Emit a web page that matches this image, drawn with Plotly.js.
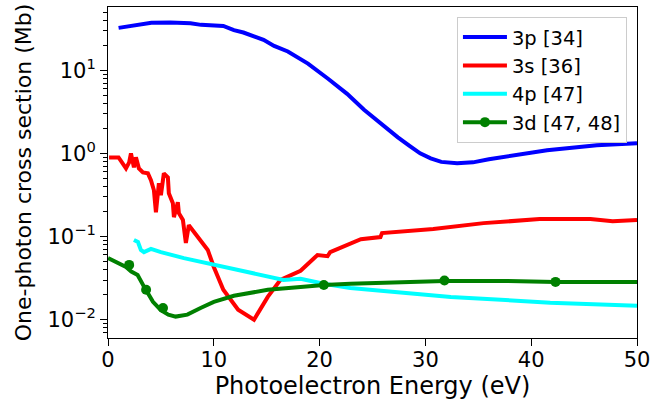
<!DOCTYPE html>
<html>
<head>
<meta charset="utf-8">
<script src="https://cdn.plot.ly/plotly-3.0.1.min.js"></script>
<style>html,body{margin:0;padding:0;background:#fff;}#chart{width:653px;height:405px;}</style>
</head>
<body>
<div id="chart"></div>
<script>
// 3p [34]
var e3p = [1.0, 2.2, 3.1, 4.1, 5.9, 7.8, 8.8, 10.9, 11.9, 12.8, 14.7, 15.7, 17.0, 18.9, 20.8, 22.6, 24.2, 25.8, 27.4, 28.5, 29.5, 30.5, 31.5, 33.0, 34.5, 36.0, 38.3, 41.5, 46.2, 50];
var s3p = [32.3, 34.1, 36.1, 37.1, 37.4, 36.7, 35.1, 34.1, 30.3, 28.4, 23.2, 19.6, 16.8, 12.0, 7.9, 5.2, 3.35, 2.25, 1.56, 1.23, 1.0, 0.87, 0.79, 0.76, 0.78, 0.85, 0.95, 1.09, 1.25, 1.32];
// 3s [36]
var e3s = [0.1, 1.0, 1.7, 2.0, 2.17, 2.45, 2.64, 2.92, 3.3, 3.77, 4.06, 4.34, 4.53, 4.81, 5.0, 5.28, 5.66, 5.75, 6.13, 6.23, 6.6, 6.7, 7.08, 7.36, 7.64, 8.77, 9.43, 10.0, 10.9, 12.3, 13.8, 15.1, 16.3, 18.2, 19.8, 20.75, 21.0, 23.9, 25.75, 25.9, 30.75, 35.5, 40.8, 45.6, 47.7, 50];
var s3s = [0.895, 0.895, 0.66, 0.78, 1.0, 0.68, 0.895, 0.66, 0.59, 0.575, 0.475, 0.36, 0.196, 0.437, 0.314, 0.575, 0.516, 0.332, 0.252, 0.171, 0.259, 0.191, 0.158, 0.0836, 0.137, 0.091, 0.069, 0.043, 0.0229, 0.0132, 0.0100, 0.0188, 0.0301, 0.0387, 0.060, 0.058, 0.065, 0.093, 0.0986, 0.110, 0.123, 0.145, 0.162, 0.162, 0.153, 0.158];
// 4p [47]
var e4p = [2.45, 2.83, 3.11, 3.4, 4.06, 5.0, 7.17, 10.0, 13.5, 16.6, 18.2, 20.4, 22.9, 32.4, 41.8, 50];
var s4p = [0.091, 0.086, 0.069, 0.065, 0.071, 0.065, 0.055, 0.0456, 0.0366, 0.0301, 0.031, 0.027, 0.0241, 0.0188, 0.016, 0.0147];
// 3d [47, 48] line
var e3d = [0.0, 1.0, 1.7, 2.2, 2.8, 3.4, 4.25, 5.0, 5.7, 6.4, 7.5, 8.8, 10.0, 11.9, 15.1, 18.2, 20.4, 22.9, 31.8, 37.1, 42.3, 50];
var s3d = [0.055, 0.048, 0.043, 0.038, 0.0345, 0.025, 0.0164, 0.013, 0.0115, 0.0109, 0.0115, 0.0139, 0.0164, 0.0194, 0.0229, 0.0248, 0.0262, 0.027, 0.0293, 0.0293, 0.0285, 0.0285];
// 3d markers
var e3dm = [2.0, 3.6, 5.2, 20.4, 31.8, 42.3];
var s3dm = [0.0456, 0.0229, 0.0138, 0.0262, 0.0296, 0.0285];

var names = ['3p [34]', '3s [36]', '4p [47]', '3d [47, 48]'];
var yTickVals = [0.01, 0.1, 1, 10];
var yTickText = ['10<sup>\u22122</sup>', '10<sup>\u22121</sup>', '10<sup>0</sup>', '10<sup>1</sup>'];
var xTickVals = [0, 10, 20, 30, 40, 50];

var LW = 4;
var traces = [
  {x: e3p, y: s3p, mode: 'lines', name: names[0], line: {color: '#0000ff', width: LW}},
  {x: e3s, y: s3s, mode: 'lines', name: names[1], line: {color: '#ff0000', width: LW}},
  {x: e4p, y: s4p, mode: 'lines', name: names[2], line: {color: '#00ffff', width: LW}},
  {x: e3d, y: s3d, mode: 'lines', name: names[3], legendgroup: 'd', showlegend: false, line: {color: '#008000', width: LW}},
  {x: e3dm, y: s3dm, mode: 'markers', name: names[3], legendgroup: 'd', showlegend: false, marker: {color: '#008000', size: 10}},
  {x: [null], y: [null], mode: 'lines+markers', name: names[3], legendgroup: 'd', line: {color: '#008000', width: LW}, marker: {color: '#008000', size: 10}}
];

var layout = {
  width: 653, height: 405,
  margin: {l: 108, r: 16, t: 7, b: 67},
  paper_bgcolor: '#fff', plot_bgcolor: '#fff',
  font: {family: 'DejaVu Sans', size: 21, color: '#000'},
  showlegend: true,
  legend: {x: 0.981, y: 0.97, xanchor: 'right', yanchor: 'top', bgcolor: 'rgba(255,255,255,0.8)', bordercolor: '#cccccc', borderwidth: 1, itemwidth: 44, font: {size: 19.5, family: 'DejaVu Sans'}, tracegroupgap: 0},
  xaxis: {
    range: [0, 50], tickvals: xTickVals, ticks: 'outside', ticklen: 7, tickwidth: 1, tickcolor: '#000',
    ticklabelstandoff: -4,
    showline: true, linecolor: '#000', linewidth: 1, mirror: true, showgrid: false, zeroline: false,
    tickfont: {size: 21},
    title: {text: 'Photoelectron Energy (eV)', font: {size: 24}, standoff: 1}
  },
  yaxis: {
    type: 'log', range: [-2.22, 1.76], tickvals: yTickVals, ticktext: yTickText,
    ticks: 'outside', ticklen: 7, tickwidth: 1, tickcolor: '#000',
    minor: {ticks: 'outside', ticklen: 4, tickcolor: '#000', dtick: 'D1', showgrid: false},
    showline: true, linecolor: '#000', linewidth: 1, mirror: true, showgrid: false, zeroline: false,
    tickfont: {size: 21},
    title: {text: 'One-photon cross section (Mb)', font: {size: 22}, standoff: 9}
  }
};

Plotly.newPlot('chart', traces, layout, {displayModeBar: false, staticPlot: true});
</script>
</body>
</html>
